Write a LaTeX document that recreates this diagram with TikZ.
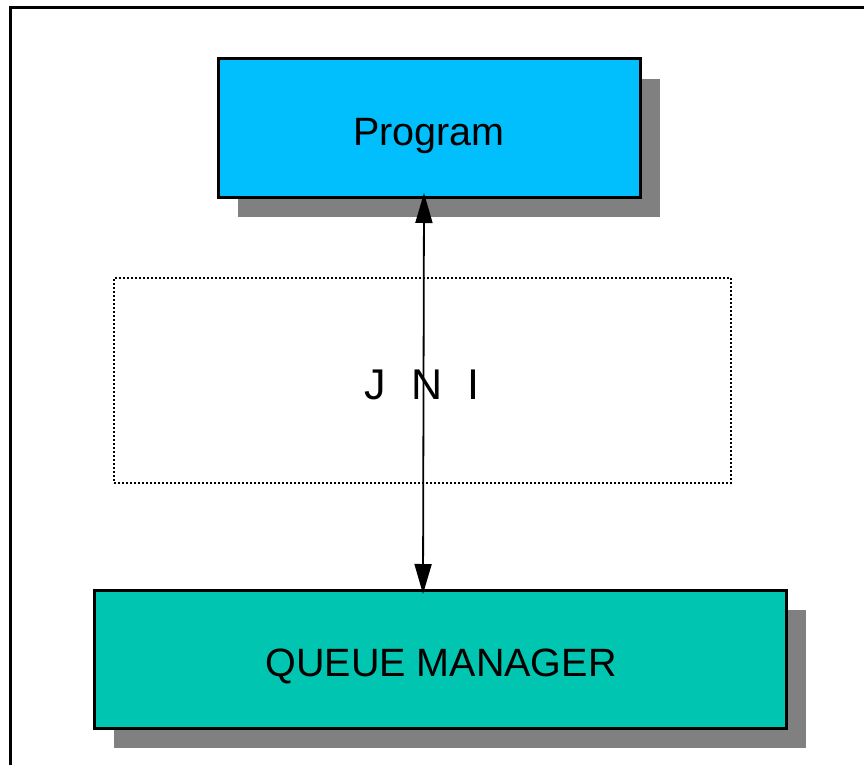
\documentclass[tikz,border=0pt]{standalone}
\usepackage{fontspec}
\setmainfont{Liberation Sans}
\usetikzlibrary{arrows.meta,shadows}
\definecolor{progblue}{RGB}{0,191,252}
\definecolor{qmteal}{RGB}{0,197,176}
\definecolor{shadowgray}{RGB}{128,128,128}
\begin{document}
\begin{tikzpicture}[x=1pt,y=-1pt,
  solidbox/.style={draw=black,line width=3pt,rectangle,inner sep=0pt,outer sep=0pt,
    drop shadow={shadow xshift=20pt,shadow yshift=-20pt,fill=shadowgray,opacity=1}},
  layerbox/.style={draw=black,line width=1.6pt,dash pattern=on 1.6pt off 2.4pt,rectangle,inner sep=0pt,outer sep=0pt},
  boxlabel/.style={anchor=base,inner sep=0pt,font=\fontsize{39.5}{47}\selectfont},
  link/.style={line width=1.8pt,{Triangle[length=30pt,width=17pt]}-{Triangle[length=30pt,width=17pt]}}]
\useasboundingbox (0,0) rectangle (864,765);
% page frame (only the top and left edges fall inside the page)
\draw[line width=2.4pt] (10.5,765) |- (864,7.5);
% boxes
\node[solidbox,fill=progblue,minimum width=422pt,minimum height=138pt] (prog) at (429,128) {};
\node[layerbox,minimum width=617pt,minimum height=205pt] (jni) at (422.5,380.5) {};
\node[solidbox,fill=qmteal,minimum width=692pt,minimum height=138pt] (qm) at (440,659) {};
% labels
\node[boxlabel] (progtext) at (429,145) {Program};
\node[boxlabel,font=\fontsize{43}{51}\selectfont] (jnitext) at (422,399) {J\hspace{26pt}N\hspace{25pt}I};
\node[boxlabel] (qmtext) at (441,676) {QUEUE MANAGER};
% call path through the native interface
\draw[link] ([xshift=-5pt,yshift=4pt]prog.south) -- ([xshift=-17pt,yshift=-4pt]qm.north);
\end{tikzpicture}
\end{document}
